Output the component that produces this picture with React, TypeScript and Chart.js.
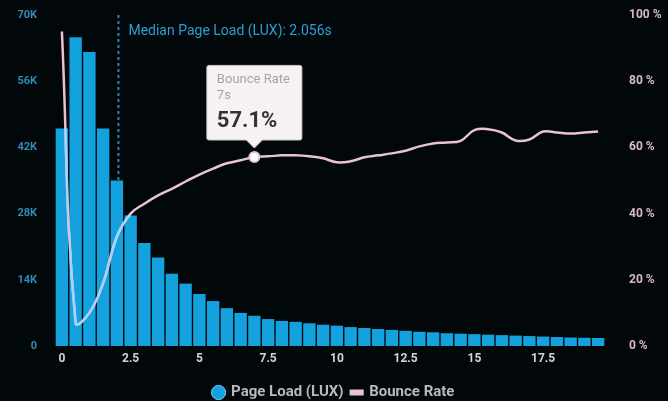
import { useEffect, useRef } from 'react';
import { Chart, registerables } from 'chart.js';

Chart.register(...registerables);

const loadTimes = [
  '0', '0.5', '1', '1.5', '2', '2.5', '3', '3.5', '4', '4.5',
  '5', '5.5', '6', '6.5', '7', '7.5', '8', '8.5', '9', '9.5',
  '10', '10.5', '11', '11.5', '12', '12.5', '13', '13.5', '14', '14.5',
  '15', '15.5', '16', '16.5', '17', '17.5', '18', '18.5', '19', '19.5',
];

const pageLoads = [
  46000, 65300, 62200, 46000, 35000, 27600, 21800, 18700, 15300, 13200,
  11000, 9500, 8000, 7000, 6400, 5700, 5300, 5100, 4800, 4500,
  4300, 4000, 3800, 3600, 3400, 3200, 3000, 2900, 2700, 2600,
  2500, 2400, 2300, 2200, 2100, 2000, 1900, 1800, 1750, 1700,
];

const bounceRates = [
  95, 7, 10, 19, 33, 40, 43, 45.5, 47.5, 49.7,
  51.8, 53.6, 55.2, 56.1, 57.1, 57.3, 57.6, 57.6, 57.3, 56.7,
  55.5, 55.8, 57, 57.6, 58.2, 59, 60.3, 61.2, 61.5, 62,
  65.2, 65.5, 64.5, 62.1, 62.4, 64.8, 64.5, 64.2, 64.5, 64.8,
];

const leftTicks = { max: 70000, step: 14000 };
const rightTicks = { max: 100, step: 20 };
const medianLoad = 2.056;
const loadStep = 0.5;
const highlightIndex = 14;

const FONT = 'Roboto, "DejaVu Sans", sans-serif';
const BG = '#02070a';
const BAR = '#14a2df';
const LINE = '#e8c3d1';

const medianPlugin = {
  id: 'medianLine',
  beforeDatasetsDraw(chart: any) {
    const xs = chart.scales.x;
    const area = chart.chartArea;
    const pos = medianLoad / loadStep;
    const i0 = Math.floor(pos);
    const p0 = xs.getPixelForValue(i0);
    const p1 = xs.getPixelForValue(i0 + 1);
    const px = p0 + (p1 - p0) * (pos - i0);
    const ctx = chart.ctx;
    ctx.save();
    ctx.strokeStyle = '#2a86ad';
    ctx.lineWidth = 2;
    ctx.setLineDash([3, 3]);
    ctx.beginPath();
    ctx.moveTo(px, area.top);
    ctx.lineTo(px, area.bottom);
    ctx.stroke();
    ctx.setLineDash([]);
    ctx.fillStyle = '#2b9fd3';
    ctx.font = `14px ${FONT}`;
    ctx.textBaseline = 'middle';
    ctx.textAlign = 'left';
    ctx.fillText(`Median Page Load (LUX): ${medianLoad}s`, px + 10, area.top + 16);
    ctx.restore();
  },
};

const overlapPlugin = {
  id: 'lineOverBars',
  afterDatasetsDraw(chart: any) {
    const barMeta = chart.getDatasetMeta(0);
    const lineMeta = chart.getDatasetMeta(1);
    const ctx = chart.ctx;
    ctx.save();
    ctx.beginPath();
    barMeta.data.forEach((b: any) => {
      const w = b.width;
      ctx.rect(b.x - w / 2, Math.min(b.y, b.base), w, Math.abs(b.base - b.y));
    });
    ctx.clip();
    ctx.beginPath();
    lineMeta.dataset.path(ctx);
    ctx.strokeStyle = '#a6d2fb';
    ctx.lineWidth = 2.5;
    ctx.lineJoin = 'round';
    ctx.stroke();
    ctx.restore();
  },
};

export default function App() {
  const ref = useRef<HTMLCanvasElement | null>(null);

  useEffect(() => {
    if (!ref.current) return;
    Chart.defaults.font.family = FONT;
    const chart = new Chart(ref.current, {
      type: 'bar',
      data: {
        labels: loadTimes,
        datasets: [
          {
            type: 'bar',
            label: 'Page Load (LUX)',
            data: pageLoads,
            backgroundColor: BAR,
            borderWidth: 0,
            barPercentage: 0.9,
            categoryPercentage: 1,
            yAxisID: 'y',
            order: 2,
          } as any,
          {
            type: 'line',
            label: 'Bounce Rate',
            data: bounceRates,
            borderColor: LINE,
            backgroundColor: LINE,
            borderWidth: 2.5,
            tension: 0.4,
            pointRadius: 0,
            pointHoverRadius: 5,
            pointHoverBackgroundColor: '#ffffff',
            pointHoverBorderColor: LINE,
            pointHoverBorderWidth: 2,
            yAxisID: 'y1',
            order: 1,
          } as any,
        ],
      },
      options: {
        animation: false,
        responsive: true,
        maintainAspectRatio: false,
        events: [],
        layout: { padding: { top: 15, left: 0, right: 0, bottom: -9 } },
        scales: {
          x: {
            grid: { display: false, drawTicks: false },
            border: { display: false },
            ticks: {
              autoSkip: false,
              maxRotation: 0,
              color: '#d4d4d4',
              font: { size: 12, weight: 'bold' },
              padding: 6,
              callback: (_v: any, i: number) => (i % 5 === 0 ? loadTimes[i] : ''),
            },
            afterFit: (s: any) => {
              s.height = 31;
            },
          },
          y: {
            position: 'left',
            min: 0,
            max: leftTicks.max,
            grid: { display: false, drawTicks: false },
            border: { display: false },
            ticks: {
              stepSize: leftTicks.step,
              color: '#2f8db5',
              font: { size: 11, weight: 'bold' },
              padding: 18,
              callback: (v: any) => (v === 0 ? '0' : `${Number(v) / 1000}K`),
            },
            afterFit: (s: any) => {
              s.width = 55;
              s.paddingTop = 0;
              s.paddingBottom = 0;
            },
          },
          y1: {
            position: 'right',
            min: 0,
            max: rightTicks.max,
            grid: { display: false, drawTicks: false },
            border: { display: false },
            ticks: {
              stepSize: rightTicks.step,
              color: '#d9b7c7',
              font: { size: 12, weight: 'bold' },
              padding: 24,
              callback: (v: any) => `${v} %`,
            },
            afterFit: (s: any) => {
              s.width = 63;
              s.paddingTop = 0;
              s.paddingBottom = 0;
            },
          },
        },
        plugins: {
          legend: {
            position: 'bottom',
            labels: {
              usePointStyle: true,
              boxWidth: 10,
              boxHeight: 10,
              padding: 8,
              color: '#b9b9b9',
              font: { size: 15, weight: 'bold' },
              sort: (a: any, b: any) => a.datasetIndex - b.datasetIndex,
              generateLabels: (c: any) => {
                const items = Chart.defaults.plugins.legend.labels.generateLabels(c);
                return items.map((it: any) =>
                  it.datasetIndex === 1
                    ? { ...it, pointStyle: 'line', lineWidth: 6, strokeStyle: LINE, fillStyle: LINE }
                    : { ...it, pointStyle: 'circle', lineWidth: 1, strokeStyle: '#7fd0f5', fillStyle: BAR }
                );
              },
            },
          },
          tooltip: {
            enabled: true,
            backgroundColor: '#f6f2f4',
            borderColor: '#cfc8cc',
            borderWidth: 1,
            titleColor: '#aaa1a6',
            titleFont: { size: 13, weight: 'normal' },
            titleSpacing: 0,
            titleMarginBottom: 5,
            bodyColor: '#333333',
            bodyFont: { size: 22, weight: 'bold' },
            padding: { top: 7, bottom: 5, left: 10, right: 12 },
            displayColors: false,
            cornerRadius: 2,
            caretSize: 8,
            caretPadding: 9,
            xAlign: 'center',
            yAlign: 'bottom',
            filter: (item: any) => item.datasetIndex === 1,
            callbacks: {
              title: (items: any[]) => ['Bounce Rate', `${loadTimes[items[0].dataIndex]}s`],
              label: (item: any) => `${bounceRates[item.dataIndex].toFixed(1)}%`,
            },
          },
        },
      },
      plugins: [medianPlugin, overlapPlugin],
    });

    const active = [{ datasetIndex: 1, index: highlightIndex }];
    chart.setActiveElements(active);
    chart.tooltip?.setActiveElements(active, { x: 0, y: 0 });
    chart.update();

    return () => chart.destroy();
  }, []);

  return (
    <div style={{ position: 'fixed', left: 0, top: 0, width: 668, height: 401, background: BG }}>
      <div style={{ position: 'relative', width: 668, height: 401 }}>
        <canvas ref={ref} />
      </div>
    </div>
  );
}
